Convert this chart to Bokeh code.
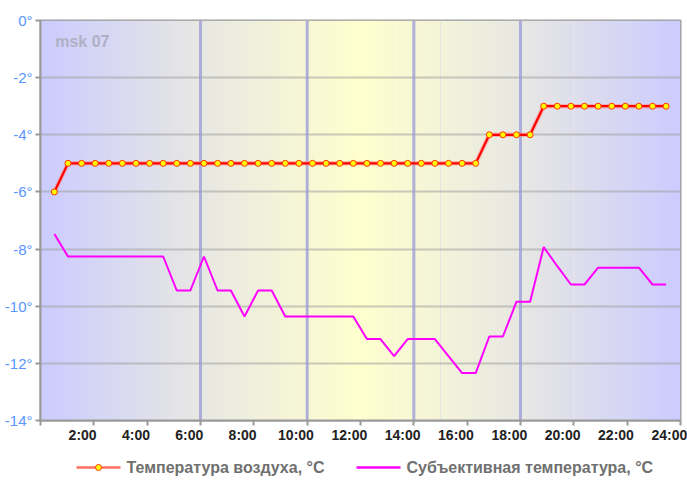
import numpy as np
from bokeh.plotting import figure
from bokeh.layouts import column
from bokeh.models import (Range1d, FixedTicker, Label, Span, LinearAxis)
from bokeh.core.properties import value
from bokeh.embed import file_html
from bokeh.resources import INLINE

hours = [0.52, 1.03, 1.54, 2.05, 2.56, 3.07, 3.58, 4.09, 4.60, 5.11,
         5.62, 6.13, 6.64, 7.14, 7.65, 8.16, 8.67, 9.18, 9.69, 10.20,
         10.71, 11.22, 11.73, 12.24, 12.75, 13.26, 13.77, 14.28, 14.79, 15.30,
         15.81, 16.32, 16.83, 17.34, 17.85, 18.36, 18.87, 19.38, 19.89, 20.40,
         20.91, 21.42, 21.93, 22.44, 22.95, 23.46]

air_temp = [-6, -5, -5, -5, -5, -5, -5, -5, -5, -5,
            -5, -5, -5, -5, -5, -5, -5, -5, -5, -5,
            -5, -5, -5, -5, -5, -5, -5, -5, -5, -5,
            -5, -5, -4, -4, -4, -4, -3, -3, -3, -3,
            -3, -3, -3, -3, -3, -3]

feels_temp = [-7.47, -8.26, -8.26, -8.26, -8.26, -8.26, -8.26, -8.26, -8.26, -9.45,
              -9.45, -8.26, -9.45, -9.45, -10.36, -9.45, -9.45, -10.36, -10.36, -10.36,
              -10.36, -10.36, -10.36, -11.15, -11.15, -11.75, -11.15, -11.15, -11.15, -11.75,
              -12.34, -12.34, -11.06, -11.06, -9.84, -9.84, -7.93, -8.6, -9.24, -9.24,
              -8.65, -8.65, -8.65, -8.65, -9.24, -9.24]

x_ticks = [0, 2, 4, 6, 8, 10, 12, 14, 16, 18, 20, 22, 24]
x_labels = ["", "2:00", "4:00", "6:00", "8:00", "10:00", "12:00", "14:00",
            "16:00", "18:00", "20:00", "22:00", "24:00"]
y_ticks = [0, -2, -4, -6, -8, -10, -12, -14]
y_labels = ["0°", "-2°", "-4°", "-6°", "-8°", "-10°", "-12°", "-14°"]
day_marks = [6, 10, 14, 18]

station = "msk 07"
label_air = "Температура воздуха, °C"
label_feels = "Субъективная температура, °C"

FONT = "Liberation Sans"
LABEL_SHIFT = 0.42  # hour labels sit to the left of their ticks

p = figure(width=687, height=448, output_backend="svg",
           toolbar_location=None, x_range=Range1d(0, 24), y_range=Range1d(-14, 0),
           min_border_left=40, min_border_top=20, min_border_right=7,
           min_border_bottom=28, x_axis_location=None)
p.background_fill_color = "white"
p.border_fill_color = "white"
p.outline_line_color = "#999999"
p.outline_line_width = 2

# background gradient
stops_t = [0, 6, 10, 12, 14, 18, 24]
stops_c = [(204, 204, 255), (232, 232, 228), (248, 248, 214), (255, 255, 206),
           (248, 248, 214), (232, 232, 228), (204, 204, 255)]
N = 640
tt = np.linspace(0, 24, N)
img = np.zeros((1, N), dtype=np.uint32)
view = img.view(dtype=np.uint8).reshape((1, N, 4))
for k in range(3):
    view[0, :, k] = np.interp(tt, stops_t, [c[k] for c in stops_c]).astype(np.uint8)
view[0, :, 3] = 255
bg = p.image_rgba(image=[img], x=0, y=-14, dw=24, dh=14)
bg.level = "image"

# grid
p.ygrid.ticker = FixedTicker(ticks=y_ticks)
p.ygrid.grid_line_color = "#a0a0a0"
p.ygrid.grid_line_alpha = 0.55
p.ygrid.grid_line_width = 2

for h in day_marks:
    s = Span(location=h, dimension="height", line_color="#9a9ad8",
             line_alpha=0.75, line_width=3, level="underlay")
    p.add_layout(s)

# x axis: ticks on the main range
xa = LinearAxis(ticker=FixedTicker(ticks=x_ticks),
                major_label_overrides={t: "" for t in x_ticks},
                major_label_standoff=0, major_label_text_font_size="1px",
                minor_tick_line_color=None, major_tick_in=0, major_tick_out=5,
                major_tick_line_color="#999999", major_tick_line_width=2,
                axis_line_color="#999999", axis_line_width=2)
p.add_layout(xa, "below")

# x axis: hour labels, on a slightly shifted range
p.extra_x_ranges = {"lab": Range1d(LABEL_SHIFT, 24 + LABEL_SHIFT)}
xl = LinearAxis(x_range_name="lab", ticker=FixedTicker(ticks=x_ticks),
                major_label_overrides={t: l for t, l in zip(x_ticks, x_labels)},
                major_label_text_font=FONT, major_label_text_font_style="bold",
                major_label_text_font_size="14px", major_label_text_color="#222222",
                major_label_standoff=1, minor_tick_line_color=None,
                major_tick_line_color=None, axis_line_color=None,
                major_tick_in=0, major_tick_out=0)
p.add_layout(xl, "below")

p.yaxis.ticker = FixedTicker(ticks=y_ticks)
p.yaxis.major_label_overrides = {t: l for t, l in zip(y_ticks, y_labels)}
p.yaxis.major_label_text_font = FONT
p.yaxis.major_label_text_font_size = "15px"
p.yaxis.major_label_text_color = "#5a96ff"
p.yaxis.major_label_standoff = 3
p.yaxis.minor_tick_line_color = None
p.yaxis.major_tick_in = 0
p.yaxis.major_tick_out = 5
p.yaxis.major_tick_line_color = "#999999"
p.yaxis.major_tick_line_width = 2
p.yaxis.axis_line_color = "#999999"
p.yaxis.axis_line_width = 2

# series
feels = p.line(hours, feels_temp, line_color="#ff00ff", line_width=2)
p.line(hours, air_temp, line_color="#ff8080", line_alpha=0.5, line_width=4.5)
air_line = p.line(hours, air_temp, line_color="#ff0000", line_width=2.2)
air_pts = p.scatter(hours, air_temp, size=6, fill_color="#ffff00",
                    line_color="#ff3300", line_width=1)

p.add_layout(Label(x=0.55, y=-0.45, text=station, text_font=FONT,
                   text_font_style="bold", text_font_size="16px",
                   text_color="#b0b0c4", text_baseline="top"))

# legend strip (its own small figure; its frame is aligned with the chart's
# frame, so the range below maps data x to page pixels)
lg = figure(width=687, height=34, output_backend="svg", toolbar_location=None,
            x_range=Range1d(40, 680), y_range=Range1d(0, 34),
            min_border=0, x_axis_location=None, y_axis_location=None)
lg.outline_line_color = None
lg.xgrid.visible = False
lg.ygrid.visible = False
ly = 15
lg.line([76, 120], [ly, ly], line_color="#ff7060", line_width=2.5)
lg.scatter([98], [ly], size=6, fill_color="#ffff00", line_color="#ff3300", line_width=1)
lg.text([126], [ly], text=[label_air], text_font=value(FONT), text_font_style="bold",
        text_font_size="16px", text_color="#707070", text_baseline="middle")
lg.line([356, 400], [ly, ly], line_color="#ff00ff", line_width=2.5)
lg.text([406], [ly], text=[label_feels], text_font=value(FONT), text_font_style="bold",
        text_font_size="16px", text_color="#707070", text_baseline="middle")

layout = column(p, lg, spacing=0)
open("out.html", "w").write(file_html(layout, INLINE))
